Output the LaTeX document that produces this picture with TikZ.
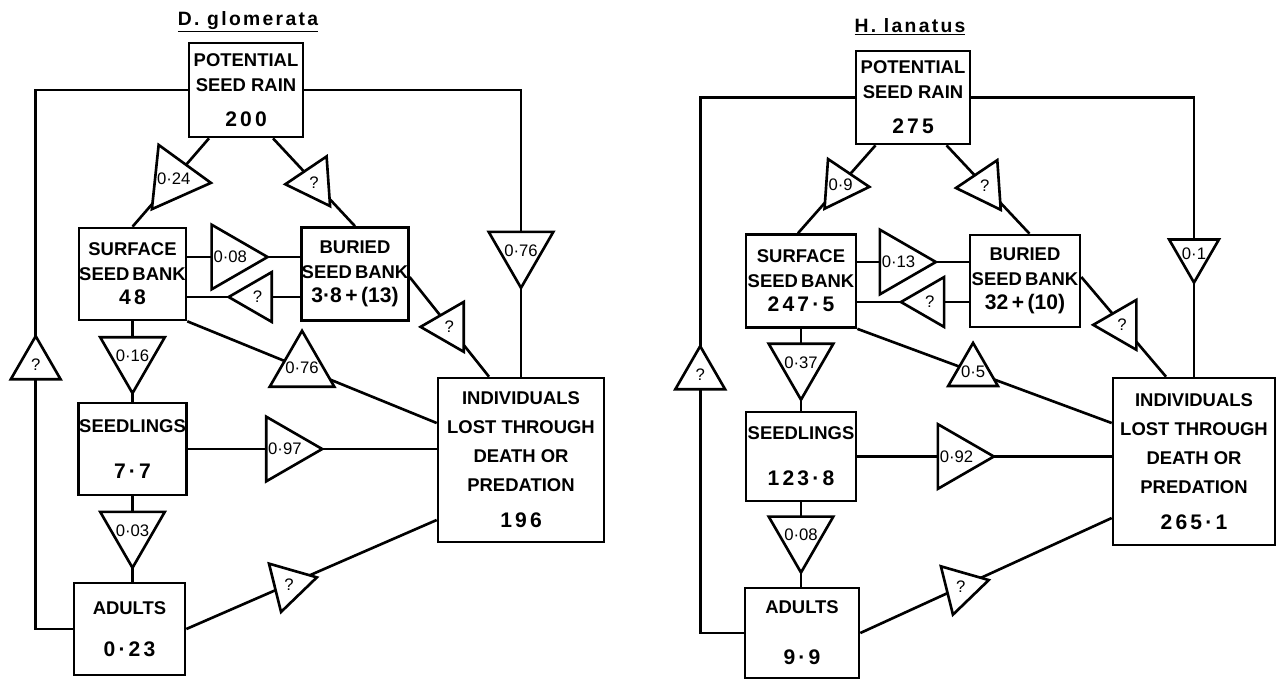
\documentclass[tikz,border=0pt]{standalone}
\usepackage{fontspec}
\setmainfont{Liberation Sans}
\usetikzlibrary{shapes.geometric}

\newcommand{\stocknum}[1]{{\fontsize{12}{14}\selectfont\addfontfeatures{LetterSpace=15}#1}}
\newcommand{\banknum}[1]{{\fontsize{12}{14}\selectfont #1}}

\begin{document}
\begin{tikzpicture}[x=0.02cm,y=-0.02cm,
  stock/.style={draw,line width=1.5pt,inner sep=0pt,align=center,font=\bfseries\fontsize{10.5}{14}\selectfont},
  lost/.style={stock,font=\bfseries\fontsize{10.5}{16.5}\selectfont},
  valve/.style={regular polygon,regular polygon sides=3,draw,fill=white,line width=1.5pt,inner sep=-2pt,minimum size=1.15cm,font=\fontsize{9.5}{10}\selectfont},
  flow/.style={line width=1.5pt},
  species/.style={font=\bfseries\fontsize{11}{13}\selectfont\addfontfeatures{LetterSpace=12}}]
\useasboundingbox (0,0) rectangle (1280,681);

% D. glomerata
\node[species] (titleL) at (248,22) {\underline{D. glomerata}};
\node[stock,minimum width=2.28cm,minimum height=1.88cm] (potL) at (246,90) {POTENTIAL\\SEED RAIN\\[6pt]\stocknum{200}};
\node[stock,minimum width=2.14cm,minimum height=1.84cm] (surfL) at (132.5,274) {SURFACE\\SEED\,BANK\\\stocknum{48}};
\node[stock,minimum width=2.08cm,minimum height=1.86cm] (buryL) at (355,274) {BURIED\\SEED\,BANK\\\banknum{3·8\,+\,(13)}};
\node[stock,minimum width=2.16cm,minimum height=1.84cm] (seedL) at (132.5,449) {SEEDLINGS\\[12pt]\stocknum{7·7}};
\node[stock,minimum width=2.22cm,minimum height=1.84cm] (adultL) at (129.5,629) {ADULTS\\[10pt]\stocknum{0·23}};
\node[lost,minimum width=3.32cm,minimum height=3.28cm] (deathL) at (521,460) {INDIVIDUALS\\LOST THROUGH\\DEATH OR\\PREDATION\\[4pt]\stocknum{196}};

\draw[flow] ([xshift=-0.74cm]potL.south) -- node[valve,pos=0.46,shape border rotate=-96] (vL1) {0·24} (surfL.north);
\draw[flow] ([xshift=0.54cm]potL.south) -- node[valve,pos=0.5,shape border rotate=94] (vL2) {?} (buryL.north);
\draw[flow] ([yshift=0.34cm]surfL.east) -- node[valve,pos=0.38,shape border rotate=-90] (vL3) {0·08} ([yshift=0.34cm]buryL.west);
\draw[flow] ([yshift=-0.46cm]surfL.east) -- node[valve,pos=0.62,shape border rotate=90] (vL4) {?} ([yshift=-0.46cm]buryL.west);
\draw[flow] ([yshift=-0.06cm]buryL.east) -- node[valve,pos=0.5,shape border rotate=90] (vL5) {?} ([xshift=-0.64cm]deathL.north);
\draw[flow] (surfL.south east) -- node[valve,pos=0.46] (vL6) {0·76} ([yshift=0.74cm]deathL.west);
\draw[flow] (surfL.south) -- node[valve,pos=0.43,shape border rotate=180] (vL7) {0·16} (surfL.south |- seedL.north);
\draw[flow] (seedL.east) -- node[valve,pos=0.39,shape border rotate=-90] (vL8) {0·97} (seedL.east -| deathL.west);
\draw[flow] (seedL.south) -- node[valve,pos=0.4,shape border rotate=180] (vL9) {0·03} (seedL.south |- adultL.north);
\draw[flow] (adultL.east) -- node[valve,pos=0.41,shape border rotate=164] (vL10) {?} ([yshift=-1.2cm]deathL.west);
\draw[flow] (adultL.west) -- ++(-37,0) |- node[valve,pos=0.245] (vL11) {?} (potL.west);
\draw[flow] (potL.east) -| node[valve,pos=0.78,shape border rotate=180] (vL12) {0·76} (deathL.north);

% H. lanatus
\node[species] (titleR) at (910,27) {\underline{H. lanatus}};
\node[stock,minimum width=2.28cm,minimum height=1.86cm] (potR) at (913,97.5) {POTENTIAL\\SEED RAIN\\[6pt]\stocknum{275}};
\node[stock,minimum width=2.2cm,minimum height=1.86cm] (surfR) at (801,281) {SURFACE\\SEED\,BANK\\\stocknum{247·5}};
\node[stock,minimum width=2.2cm,minimum height=1.84cm] (buryR) at (1025,281) {BURIED\\SEED\,BANK\\\banknum{32\,+\,(10)}};
\node[stock,minimum width=2.2cm,minimum height=1.78cm] (seedR) at (801,456.5) {SEEDLINGS\\[12pt]\stocknum{123·8}};
\node[stock,minimum width=2.28cm,minimum height=1.8cm] (adultR) at (802,633) {ADULTS\\[15pt]\stocknum{9·9}};
\node[lost,minimum width=3.24cm,minimum height=3.34cm] (deathR) at (1194,461.5) {INDIVIDUALS\\LOST THROUGH\\DEATH OR\\PREDATION\\[4pt]\stocknum{265·1}};

\draw[flow] ([xshift=-0.75cm]potR.south) -- node[valve,pos=0.45,shape border rotate=-94] (vR1) {0·9} ([xshift=-0.06cm]surfR.north);
\draw[flow] ([xshift=0.67cm]potR.south) -- node[valve,pos=0.46,shape border rotate=94] (vR2) {?} ([xshift=0.09cm]buryR.north);
\draw[flow] ([yshift=0.38cm]surfR.east) -- node[valve,pos=0.37,shape border rotate=-90] (vR3) {0·13} ([yshift=0.38cm]buryR.west);
\draw[flow] ([yshift=-0.42cm]surfR.east) -- node[valve,pos=0.65,shape border rotate=90] (vR4) {?} ([yshift=-0.42cm]buryR.west);
\draw[flow] ([yshift=0.08cm]buryR.east) -- node[valve,pos=0.48,shape border rotate=90] (vR5) {?} ([xshift=-0.56cm]deathR.north);
\draw[flow] (surfR.south east) -- node[valve,pos=0.455] (vR6) {0·5} ([yshift=0.77cm]deathR.west);
\draw[flow] (surfR.south) -- node[valve,pos=0.41,shape border rotate=180] (vR7) {0·37} (surfR.south |- seedR.north);
\draw[flow] (seedR.east) -- node[valve,pos=0.39,shape border rotate=-90] (vR8) {0·92} (seedR.east -| deathR.west);
\draw[flow] (seedR.south) -- node[valve,pos=0.39,shape border rotate=180] (vR9) {0·08} (seedR.south |- adultR.north);
\draw[flow] (adultR.east) -- node[valve,pos=0.40,shape border rotate=164] (vR10) {?} ([yshift=-1.13cm]deathR.west);
\draw[flow] (adultR.west) -- ++(-43.5,0) |- node[valve,pos=0.241] (vR11) {?} (potR.west);
\draw[flow] (potR.east) -| node[valve,pos=0.78,shape border rotate=180] (vR12) {0·1} (deathR.north);
\end{tikzpicture}
\end{document}
